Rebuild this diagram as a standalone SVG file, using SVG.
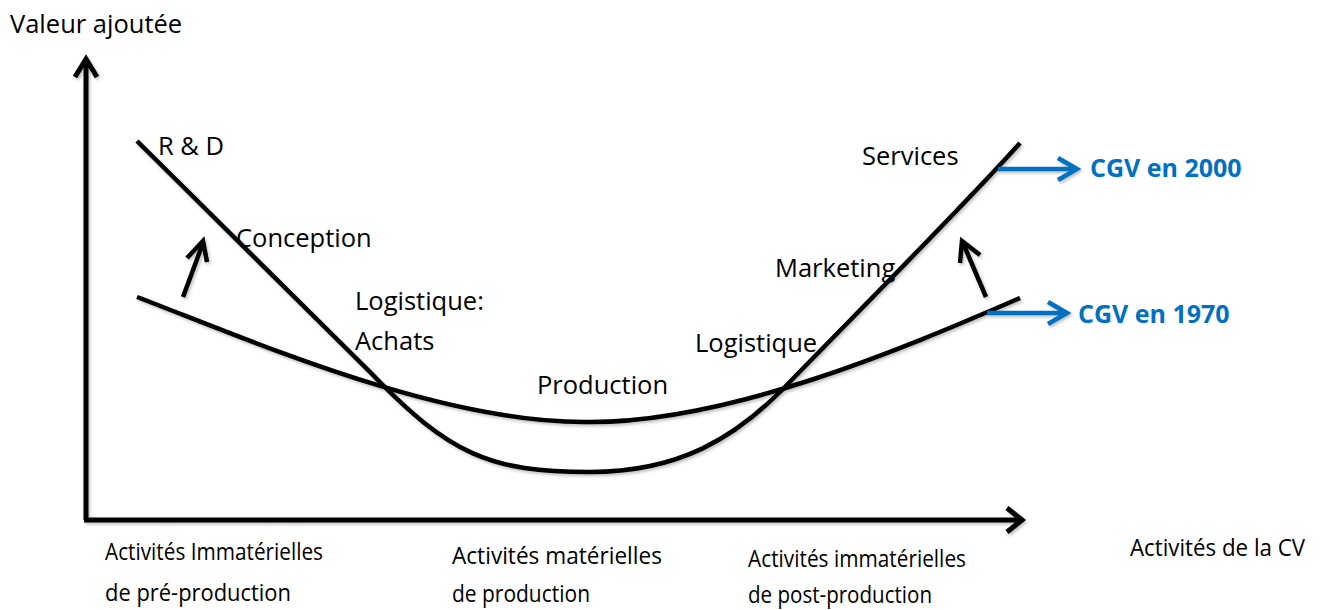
<svg xmlns="http://www.w3.org/2000/svg" width="1321" height="610" viewBox="0 0 1321 610">
<style>
.t{font-family:"Open Sans","Liberation Sans",sans-serif;font-size:25.5px;fill:#000}
.s{font-family:"Open Sans","Liberation Sans",sans-serif;font-size:24px;fill:#000}
.b{font-family:"Open Sans","Liberation Sans",sans-serif;font-size:25px;font-weight:bold;fill:#0070C0}
.ln{fill:none;stroke:#000;stroke-width:4.5;stroke-linecap:butt;stroke-linejoin:miter}
.ax{fill:none;stroke:#000;stroke-width:5}
.bl{fill:none;stroke:#0070C0;stroke-width:4.5}
</style>
<defs>
<filter id="sh" x="-10%" y="-10%" width="120%" height="120%"><feDropShadow dx="1.5" dy="2" stdDeviation="1.5" flood-color="#000" flood-opacity="0.25"/></filter>
</defs>
<rect width="1321" height="610" fill="#fff"/>
<g id="connectors" filter="url(#sh)">
<path class="ax" d="M86,520 V60"/>
<path class="ax" d="M75,77 L86,59 L97,77"/>
<path class="ax" d="M84,520 H1021"/>
<path class="ax" d="M1007,508 L1022,520 L1007,532"/>
<path id="c2000" class="ln" d="M137,141 L370,372 C450,455 490,472 590,472 C680,472 735,437 782,390 C830,340 960,210 1020,143"/>
<path id="c1970" class="ln" d="M137,297 C250,340 440,424 590,422 C730,422 900,350 1020,298"/>
<path class="ln" d="M183,297 L203,243"/>
<path class="ln" d="M187,258 L203,241 L207,262"/>
<path class="ln" d="M986,297 L963,243"/>
<path class="ln" d="M960,263 L962,241 L980,255"/>
<path class="bl" d="M998,169 H1076"/>
<path class="bl" d="M1058,158 L1077,169 L1058,180"/>
<path class="bl" d="M987,313 H1066"/>
<path class="bl" d="M1048,302 L1067,313 L1048,324"/>
</g>
<g id="labels">
<text class="t" x="10" y="33">Valeur ajoutée</text>
<text class="t" x="158" y="155">R &amp; D</text>
<text class="t" x="236" y="247">Conception</text>
<text class="t" x="355" y="310">Logistique:</text>
<text class="t" x="355" y="350">Achats</text>
<text class="t" x="537" y="394">Production</text>
<text class="t" x="695" y="352">Logistique</text>
<text class="t" x="775" y="277">Marketing</text>
<text class="t" x="862" y="165">Services</text>
<text class="b" x="1090" y="177">CGV en 2000</text>
<text class="b" x="1078" y="323">CGV en 1970</text>
<text class="s" x="1130" y="556" textLength="175" lengthAdjust="spacingAndGlyphs">Activités de la CV</text>
<text class="s" x="105" y="560" textLength="218" lengthAdjust="spacingAndGlyphs">Activités Immatérielles</text>
<text class="s" x="105" y="601" textLength="186" lengthAdjust="spacingAndGlyphs">de pré-production</text>
<text class="s" x="452" y="564" textLength="210" lengthAdjust="spacingAndGlyphs">Activités matérielles</text>
<text class="s" x="452" y="602" textLength="138" lengthAdjust="spacingAndGlyphs">de production</text>
<text class="s" x="748" y="567" textLength="218" lengthAdjust="spacingAndGlyphs">Activités immatérielles</text>
<text class="s" x="748" y="603" textLength="184" lengthAdjust="spacingAndGlyphs">de post-production</text>
</g>
</svg>
